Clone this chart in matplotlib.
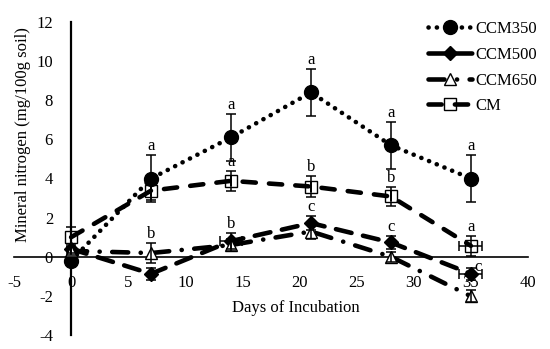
import matplotlib
matplotlib.use("Agg")
import matplotlib.pyplot as plt

plt.rcParams['font.family'] = ['Liberation Serif', 'DejaVu Serif']
plt.rcParams['axes.unicode_minus'] = False

days = [0, 7, 14, 21, 28, 35]
ccm350 = [-0.2, 4.0, 6.1, 8.4, 5.7, 4.0]
ccm350_err = [0.2, 1.2, 1.2, 1.2, 1.2, 1.2]
ccm500 = [0.4, -0.87, 0.8, 1.72, 0.73, -0.87]
ccm500_err = [0.2, 0.3, 0.42, 0.35, 0.35, 0.3]
ccm500_xerr = [0, 0, 1, 0, 0, 1]
ccm650 = [0.3, 0.19, 0.6, 1.29, 0.0, -2.02]
ccm650_err = [0.2, 0.5, 0.3, 0.4, 0.25, 0.3]
cm = [1.0, 3.38, 3.88, 3.59, 3.08, 0.56]
cm_err = [0.5, 0.5, 0.5, 0.55, 0.5, 0.5]
cm_xerr = [0, 0, 0, 0, 0, 1]

letters_ccm350 = ['', 'a', 'a', 'a', 'a', 'a']
letters_cm = ['', '', 'a', 'b', 'b', 'a']
letters_ccm500 = ['', '', 'b', 'c', 'c', 'c']
letters_ccm650 = ['', 'b', '', '', '', '']

xticks = [-5, 0, 5, 10, 15, 20, 25, 30, 35, 40]
yticks = [-4, -2, 0, 2, 4, 6, 8, 10, 12]

fig = plt.figure(figsize=(5.5, 3.49), dpi=100)
ax = fig.add_axes([14/550, 1-335/349, 514/550, 313/349])
ax.set_xlim(-5, 40)
ax.set_ylim(-4, 12)

LW = 3.3
s = 1.0 / LW  # dash lengths below are given in points; matplotlib scales by linewidth
series = [
    (ccm350, ccm350_err, None, 'CCM350', dict(marker='o', ms=10, mfc='black', mec='black'), (0.1, 5.9)),
    (ccm500, ccm500_err, ccm500_xerr, 'CCM500', dict(marker='D', ms=7, mfc='black', mec='black'), (11.5, 8.5)),
    (ccm650, ccm650_err, None, 'CCM650', dict(marker='^', ms=9, mfc='white', mec='black', mew=1.0), (11.5, 9, 0.1, 9)),
    (cm, cm_err, cm_xerr, 'CM', dict(marker='s', ms=9, mfc='none', mec='black', mew=1.0), (9.5, 9.5)),
]

handles = []
for vals, yerr, xerr, label, mk, dashes in series:
    ls = (0, tuple(d * s for d in dashes))
    ln, = ax.plot(days, vals, color='black', lw=LW, label=label, linestyle=ls,
                  dash_capstyle='round', solid_capstyle='round', zorder=3, **mk)
    handles.append(ln)
    ax.errorbar(days, vals, yerr=yerr, xerr=xerr, fmt='none', ecolor='black',
                elinewidth=1.1, capsize=3.6, capthick=1.1, zorder=4)

def put_letters(vals, errs, letters, n=6):
    for x, v, e, t in list(zip(days, vals, errs, letters))[:n]:
        if not t:
            continue
        ax.annotate(t, (x, v + e), xytext=(0, 3.5), textcoords='offset points',
                    ha='center', va='baseline', fontsize=12)

put_letters(ccm350, ccm350_err, letters_ccm350)
put_letters(cm, cm_err, letters_cm)
put_letters(ccm650, ccm650_err, letters_ccm650)
put_letters(ccm500, ccm500_err, letters_ccm500, n=5)
ax.annotate(letters_ccm500[5], (days[5], ccm500[5] + ccm500_err[5]), xytext=(5.5, -2),
            textcoords='offset points', ha='center', va='baseline', fontsize=12)

ax.spines['left'].set_position(('data', 0))
ax.spines['bottom'].set_position(('data', 0))
ax.spines['right'].set_visible(False)
ax.spines['top'].set_visible(False)
ax.spines['left'].set_linewidth(1.6)
ax.spines['bottom'].set_linewidth(1.2)
ax.set_xticks(xticks)
ax.set_yticks(yticks)
ax.tick_params(axis='both', length=0, labelsize=12, pad=13)
ax.patch.set_visible(False)

ax.set_xlabel('Days of Incubation', fontsize=12)
ax.xaxis.set_label_coords((296-14)/514, (335-300)/313)
ax.set_ylabel('Mineral nitrogen (mg/100g soil)', fontsize=12)
ax.yaxis.set_label_coords((31-14)/514, (335-135)/313)

leg = fig.legend(handles=handles, loc='upper left', bbox_to_anchor=(420/550, 1-13/349),
                 frameon=False, fontsize=12, handlelength=2.6, handletextpad=0.2,
                 labelspacing=0.58, borderpad=0)

fig.savefig('out.png', dpi=100)
